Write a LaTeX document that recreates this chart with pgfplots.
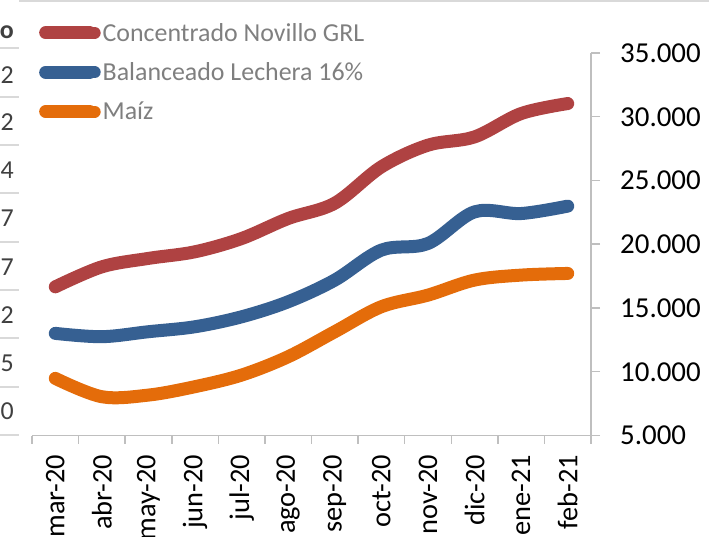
\documentclass[border=0pt]{standalone}
\usepackage{pgfplots}
\pgfplotsset{compat=1.18}
\usepackage{fontspec}
\setmainfont{Carlito}
\definecolor{cred}{HTML}{AF4242}
\definecolor{cblue}{HTML}{366092}
\definecolor{corange}{HTML}{E46C0A}
\definecolor{axgray}{HTML}{BFBFBF}
\definecolor{topgray}{HTML}{D9D9D9}
\definecolor{txtgray}{HTML}{7F7F7F}
\definecolor{tblgray}{HTML}{404040}
\begin{document}
\begin{tikzpicture}
\path[use as bounding box] (0,0) rectangle (709bp,537bp);
% remnants of a neighbouring table
\draw[topgray, line width=2bp] (19bp,536bp) -- (709bp,536bp);
\foreach \yy in {489,440,392,344,295,247,199,150,102}
  \draw[topgray, line width=2bp] (0bp,\yy bp) -- (19bp,\yy bp);
\node[anchor=east, inner sep=0pt, font=\fontsize{26}{26}\selectfont\bfseries, text=tblgray] at (14bp,505bp) {o};
\foreach \yy/\dd in {462/2,415/2,367/4,319/7,270/7,222/2,174/5,126/0}
  \node[anchor=east, inner sep=0pt, font=\fontsize{26}{26}\selectfont, text=tblgray] at (14bp,\yy bp) {\dd};
\begin{axis}[
  at={(32bp,101.5bp)}, anchor=south west,
  scale only axis, width=559bp, height=382.5bp,
  xmin=-0.5, xmax=11.5, ymin=5000, ymax=35000,
  scaled y ticks=false,
  axis x line*=bottom, axis y line*=right,
  axis line style={draw=axgray, line width=1.5bp, -},
  tick align=outside,
  xtick={0,...,11},
  xticklabels={mar-20,abr-20,may-20,jun-20,jul-20,ago-20,sep-20,oct-20,nov-20,dic-20,ene-21,feb-21},
  minor xtick={-0.5,0.5,...,11.5},
  major x tick style={draw=none},
  minor x tick style={draw=axgray, line width=1.5bp},
  minor tick length=8bp,
  major tick length=9bp,
  ytick={5000,10000,...,35000},
  yticklabels={5.000,10.000,15.000,20.000,25.000,30.000,35.000},
  major y tick style={draw=axgray, line width=1.5bp},
  yticklabel style={font=\fontsize{29}{29}\selectfont, inner sep=0pt, anchor=west, xshift=20bp},
  xticklabel style={font=\fontsize{28.5}{28.5}\selectfont, inner sep=0pt, rotate=90, anchor=east, xshift=-10bp},
  legend style={at={(0.0125,1.084)}, anchor=north west, draw=none, fill=none,
    font=\fontsize{26}{30}\selectfont, text=txtgray, row sep=16bp, inner sep=0pt,
    nodes={inner sep=2bp}},
  legend cell align=left,
  legend image code/.code={\draw[#1, line width=12bp, line cap=round] (6bp,0bp) -- (49bp,0bp); \path (0bp,0bp) -- (44bp,0bp);},
  every axis plot/.append style={line width=13bp, line cap=round, line join=round, smooth, tension=0.55, no markers},
]
\addplot[cred] coordinates {(0,16660) (1,18230) (2,18890) (3,19410) (4,20450) (5,22020) (6,23220) (7,26070) (8,27770) (9,28420) (10,30250) (11,31035)};
\addlegendentry{Concentrado Novillo GRL}
\addplot[cblue] coordinates {(0,13010) (1,12750) (2,13140) (3,13530) (4,14310) (5,15490) (6,17190) (7,19540) (8,20060) (9,22540) (10,22410) (11,22990)};
\addlegendentry{Balanceado Lechera 16\%}
\addplot[corange] coordinates {(0,9480) (1,8040) (2,8170) (3,8830) (4,9740) (5,11180) (6,13140) (7,15100) (8,16010) (9,17190) (10,17580) (11,17710)};
\addlegendentry{Maíz}
\end{axis}
\end{tikzpicture}
\end{document}
